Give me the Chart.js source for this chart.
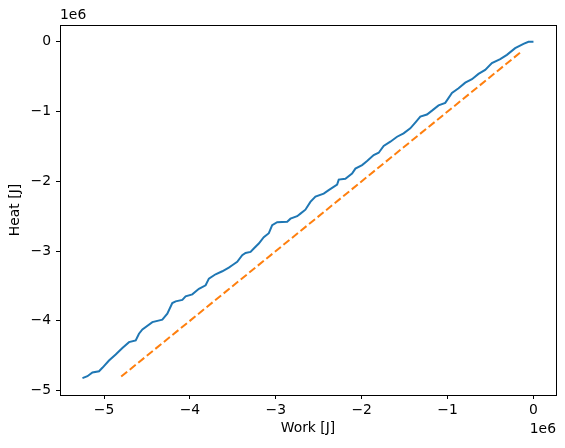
<!DOCTYPE html>
<html>
<head>
<meta charset="utf-8">
<script src="https://cdn.jsdelivr.net/npm/chart.js@4"></script>
<style>
  html, body { margin: 0; padding: 0; background: #fff; }
  #wrap { width: 565px; height: 448px; }
</style>
</head>
<body>
<div id="wrap"><canvas id="heatChart" width="565" height="448"></canvas></div>
<script>
// values in units of 1e6 J
const work = [-5.251, -5.193, -5.135, -5.058, -5.019, -4.942, -4.864, -4.786, -4.709, -4.631,
  -4.593, -4.553, -4.437, -4.321, -4.263, -4.205, -4.166, -4.088, -4.050, -3.972,
  -3.895, -3.817, -3.779, -3.701, -3.623, -3.547, -3.507, -3.449, -3.391, -3.352,
  -3.294, -3.256, -3.198, -3.140, -3.081, -3.042, -2.984, -2.867, -2.829, -2.751,
  -2.713, -2.655, -2.597, -2.538, -2.442, -2.384, -2.286, -2.267, -2.190, -2.112,
  -2.073, -1.995, -1.937, -1.860, -1.802, -1.744, -1.666, -1.588, -1.512, -1.434,
  -1.376, -1.317, -1.240, -1.181, -1.105, -1.027, -0.949, -0.872, -0.794, -0.716,
  -0.640, -0.562, -0.484, -0.387, -0.309, -0.213, -0.116, -0.058, 0.0];
const heat = [-4.823, -4.795, -4.741, -4.723, -4.674, -4.569, -4.483, -4.389, -4.306, -4.282,
  -4.185, -4.124, -4.019, -3.984, -3.898, -3.746, -3.721, -3.700, -3.649, -3.621,
  -3.542, -3.491, -3.395, -3.333, -3.290, -3.237, -3.204, -3.154, -3.060, -3.027,
  -3.013, -2.964, -2.892, -2.802, -2.744, -2.629, -2.586, -2.579, -2.536, -2.500,
  -2.464, -2.407, -2.295, -2.220, -2.177, -2.126, -2.047, -1.976, -1.964, -1.889,
  -1.818, -1.767, -1.710, -1.624, -1.591, -1.494, -1.432, -1.361, -1.312, -1.240,
  -1.159, -1.073, -1.042, -0.987, -0.912, -0.876, -0.733, -0.665, -0.585, -0.536,
  -0.460, -0.402, -0.306, -0.249, -0.187, -0.091, -0.029, 0.0, 0.0];
const idealWork = [-4.80, -0.15];
const idealHeat = [-4.80, -0.15];
const xTicks = [-5, -4, -3, -2, -1, 0];
const yTicks = [-5, -4, -3, -2, -1, 0];

const FONT = "'DejaVu Sans', sans-serif";

function fmt(v) {
  return v < 0 ? "\u2212" + Math.abs(v) : String(v);
}

const framePlugin = {
  id: "frame",
  afterDraw(chart) {
    const { ctx, chartArea: a } = chart;
    ctx.save();
    ctx.strokeStyle = "#000";
    ctx.lineWidth = 1;
    ctx.strokeRect(Math.round(a.left) + 0.5, Math.round(a.top) + 0.5,
      Math.round(a.right - a.left), Math.round(a.bottom - a.top));
    // offset labels
    ctx.fillStyle = "#000";
    ctx.font = "13.9px " + FONT;
    ctx.textBaseline = "bottom";
    ctx.textAlign = "left";
    ctx.fillText("1e6", a.left, a.top - 3);
    ctx.textAlign = "right";
    ctx.textBaseline = "middle";
    ctx.fillText("1e6", a.right, 429);
    ctx.restore();
  },
};

new Chart(document.getElementById("heatChart"), {
  type: "scatter",
  data: {
    datasets: [
      {
        data: work.map((w, i) => ({ x: w, y: heat[i] })),
        showLine: true,
        borderColor: "#1f77b4",
        borderWidth: 2,
        pointRadius: 0,
        fill: false,
      },
      {
        data: idealWork.map((w, i) => ({ x: w, y: idealHeat[i] })),
        showLine: true,
        borderColor: "#ff7f0e",
        borderWidth: 2,
        borderDash: [7.7, 3.3],
        pointRadius: 0,
        fill: false,
      },
    ],
  },
  options: {
    responsive: false,
    animation: false,
    layout: { padding: { top: 25, right: 9, left: 0, bottom: 0 } },
    plugins: { legend: { display: false }, tooltip: { enabled: false } },
    scales: {
      x: {
        type: "linear",
        min: -5.5125,
        max: 0.2625,
        afterFit: (s) => { s.height = 53; },
        afterBuildTicks: (s) => { s.ticks = xTicks.map((v) => ({ value: v })); },
        grid: { drawOnChartArea: false, drawTicks: true, tickLength: 4, color: "#000" },
        border: { display: true, color: "#000", width: 1 },
        ticks: { callback: fmt, color: "#000", padding: 3, font: { family: FONT, size: 13.9 }, maxRotation: 0 },
        title: { display: true, text: "Work [J]", color: "#000", font: { family: FONT, size: 13.9 }, padding: { top: 0, bottom: 11 } },
      },
      y: {
        type: "linear",
        min: -5.064,
        max: 0.241,
        afterFit: (s) => { s.width = 60; },
        afterBuildTicks: (s) => { s.ticks = yTicks.map((v) => ({ value: v })); },
        grid: { drawOnChartArea: false, drawTicks: true, tickLength: 4, color: "#000" },
        border: { display: true, color: "#000", width: 1 },
        ticks: { callback: fmt, color: "#000", padding: 5, font: { family: FONT, size: 13.9 } },
        title: { display: true, text: "Heat [J]", color: "#000", font: { family: FONT, size: 13.9 }, padding: { top: 7, bottom: 0 } },
      },
    },
  },
  plugins: [framePlugin],
});
</script>
</body>
</html>
